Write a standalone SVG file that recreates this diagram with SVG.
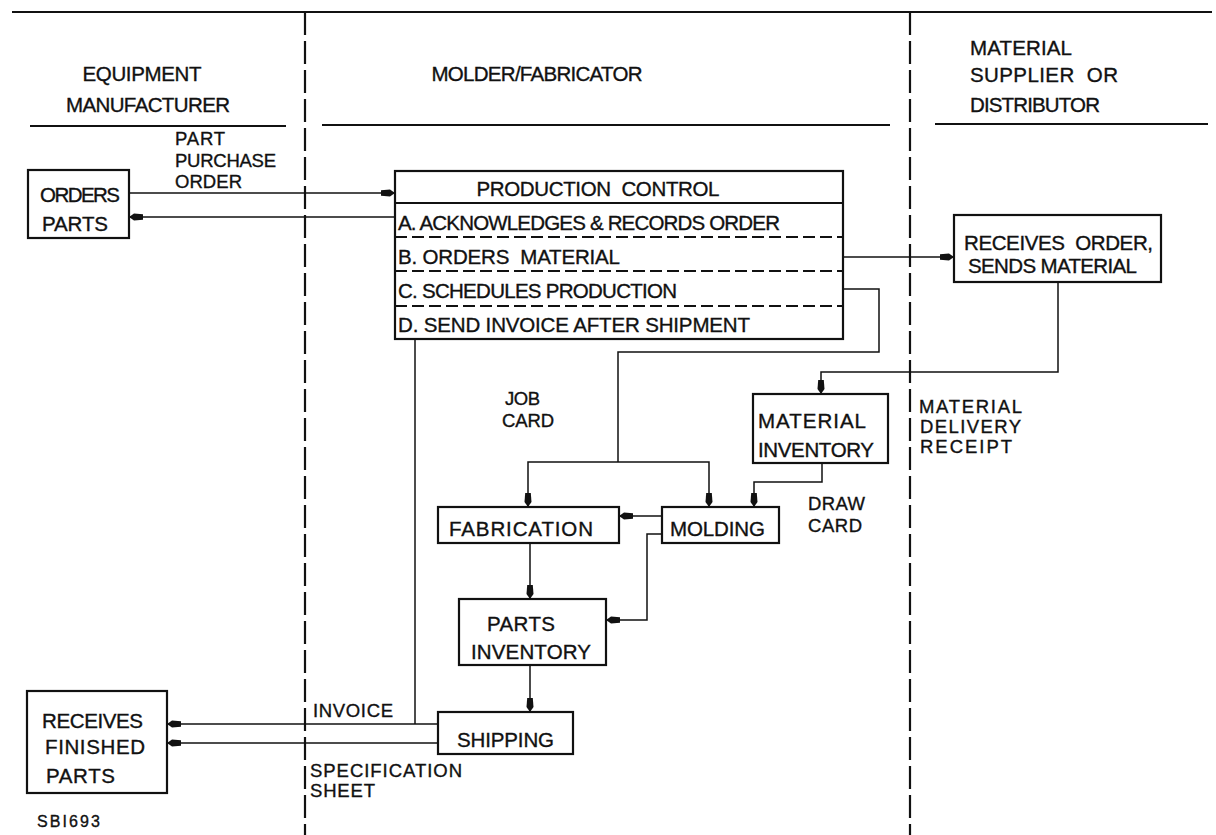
<svg xmlns="http://www.w3.org/2000/svg" width="1216" height="835" viewBox="0 0 1216 835">
<style>
text{font-family:"Liberation Sans",Arial,sans-serif;font-size:20.5px;fill:#111;stroke:#111;stroke-width:0.35;}
.sm{font-size:18.5px;}
.box{fill:#fff;stroke:#111;stroke-width:2.2;}
.div{stroke:#111;stroke-width:1.8;fill:none;}
.dash{stroke:#111;stroke-width:1.8;stroke-dasharray:12 5;fill:none;}
.lane{stroke:#111;stroke-width:2.2;stroke-dasharray:23 6;fill:none;}
.rule{stroke:#111;stroke-width:2;fill:none;}
.con{stroke:#111;stroke-width:1.5;fill:none;}
.arr{marker-end:url(#ah);}
</style>
<defs>
<marker id="ah" viewBox="0 0 14 8" refX="14" refY="4" markerWidth="14" markerHeight="8" markerUnits="userSpaceOnUse" orient="auto">
<path d="M0,1.2 L9,0.5 L14,4 L9,7.5 L0,6.8 Z" fill="#111"/>
</marker>
</defs>

<g id="lanes">
<path class="rule" d="M12,12 H1212"/>
<path class="lane" d="M305,12 V835"/>
<path class="lane" d="M910,12 V835"/>
<path class="rule" d="M30,126 H286"/>
<path class="rule" d="M322,125 H890"/>
<path class="rule" d="M935,124 H1208"/>
<text x="142" y="81" text-anchor="middle" textLength="119">EQUIPMENT</text>
<text x="148" y="112" text-anchor="middle" textLength="164">MANUFACTURER</text>
<text x="537" y="81" text-anchor="middle" textLength="211">MOLDER/FABRICATOR</text>
<text x="970" y="55" textLength="102">MATERIAL</text>
<text x="970" y="82" textLength="148" xml:space="preserve">SUPPLIER  OR</text>
<text x="970" y="112" textLength="130">DISTRIBUTOR</text>
</g>

<g id="connectors">
<path class="con arr" d="M129,193 H395"/>
<path class="con arr" d="M395,217 H129"/>
<path class="con arr" d="M843,257 H954"/>
<path class="con arr" d="M1058,282 V372 H821 V394"/>
<path class="con" d="M843,289 H879 V352 H618 V462"/>
<path class="con arr" d="M618,462 H528 V507"/>
<path class="con arr" d="M618,462 H709 V507"/>
<path class="con arr" d="M822,463 V482 H754 V507"/>
<path class="con arr" d="M662,516 H619"/>
<path class="con arr" d="M662,534 H647 V620 H606"/>
<path class="con arr" d="M530,543 V599"/>
<path class="con arr" d="M530,665 V712"/>
<path class="con" d="M415,339 V724"/>
<path class="con arr" d="M438,724 H167"/>
<path class="con arr" d="M438,743 H167"/>
</g>

<g id="labels">
<text class="sm" x="175" y="145" textLength="50">PART</text>
<text class="sm" x="175" y="167" textLength="101">PURCHASE</text>
<text class="sm" x="175" y="188" textLength="67">ORDER</text>
<text class="sm" x="505" y="405" textLength="35">JOB</text>
<text class="sm" x="502" y="427" textLength="52">CARD</text>
<text class="sm" x="808" y="510" textLength="57">DRAW</text>
<text class="sm" x="808" y="532" textLength="54">CARD</text>
<text class="sm" x="919" y="413" textLength="103">MATERIAL</text>
<text class="sm" x="920" y="433" textLength="101">DELIVERY</text>
<text class="sm" x="920" y="453" textLength="92">RECEIPT</text>
<text class="sm" x="313" y="717" textLength="80">INVOICE</text>
<text class="sm" x="310" y="777" textLength="152">SPECIFICATION</text>
<text class="sm" x="310" y="797" textLength="65">SHEET</text>
<text x="37" y="827" style="font-size:16px" textLength="63">SBI693</text>
</g>

<g id="orders-parts">
<rect class="box" x="28" y="170" width="101" height="68"/>
<text x="40" y="202" textLength="80">ORDERS</text>
<text x="42" y="231" textLength="66">PARTS</text>
</g>

<g id="production-control">
<rect class="box" x="395" y="171" width="448" height="168"/>
<path class="div" d="M395,203 H843"/>
<path class="dash" d="M395,237 H843 M395,271 H843 M395,306 H843"/>
<text x="598" y="196" text-anchor="middle" textLength="243" xml:space="preserve">PRODUCTION  CONTROL</text>
<text x="398" y="230" textLength="382">A. ACKNOWLEDGES &amp; RECORDS ORDER</text>
<text x="398" y="264" textLength="222" xml:space="preserve">B. ORDERS  MATERIAL</text>
<text x="398" y="298" textLength="279">C. SCHEDULES PRODUCTION</text>
<text x="398" y="332" textLength="352">D. SEND INVOICE AFTER SHIPMENT</text>
</g>

<g id="receives-order">
<rect class="box" x="954" y="215" width="207" height="67"/>
<text x="964" y="250" textLength="189" xml:space="preserve">RECEIVES  ORDER,</text>
<text x="968" y="273" textLength="169">SENDS MATERIAL</text>
</g>

<g id="material-inventory">
<rect class="box" x="753" y="394" width="135" height="69"/>
<text x="758" y="428" textLength="108">MATERIAL</text>
<text x="758" y="457" textLength="116">INVENTORY</text>
</g>

<g id="fabrication">
<rect class="box" x="438" y="507" width="181" height="36"/>
<text x="449" y="536" textLength="144">FABRICATION</text>
</g>

<g id="molding">
<rect class="box" x="662" y="507" width="117" height="36"/>
<text x="670" y="536" textLength="95">MOLDING</text>
</g>

<g id="parts-inventory">
<rect class="box" x="459" y="599" width="147" height="66"/>
<text x="487" y="631" textLength="68">PARTS</text>
<text x="471" y="659" textLength="120">INVENTORY</text>
</g>

<g id="shipping">
<rect class="box" x="438" y="712" width="135" height="42"/>
<text x="457" y="747" textLength="97">SHIPPING</text>
</g>

<g id="receives-finished-parts">
<rect class="box" x="27" y="691" width="140" height="102"/>
<text x="42" y="728" textLength="101">RECEIVES</text>
<text x="45" y="754" textLength="100">FINISHED</text>
<text x="46" y="783" textLength="69">PARTS</text>
</g>
</svg>
